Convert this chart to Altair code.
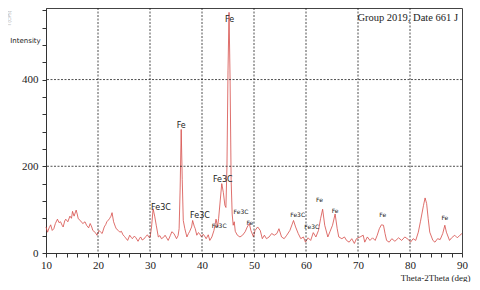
import altair as alt
import pandas as pd

# ---- data ----
two_theta = [
    10.0, 10.3, 10.6, 10.9, 11.2, 11.5, 11.8, 12.2, 12.5, 12.8, 13.1, 13.3, 13.6, 13.8,
    14.2, 14.6, 14.9, 15.1, 15.4, 15.8, 16.0, 16.2, 16.6, 16.9, 17.1, 17.5, 17.8, 18.2,
    18.5, 18.8, 19.0, 19.5, 19.8, 20.2, 20.5, 20.8, 21.2, 21.5, 21.7, 22.0, 22.2, 22.5,
    22.7, 23.0, 23.3, 23.5, 23.9, 24.2, 24.5, 24.8, 25.1, 25.3, 25.7, 26.1, 26.4, 26.6,
    27.0, 27.3, 27.7, 28.0, 28.2, 28.5, 28.8, 29.2, 29.5, 29.8, 30.0, 30.3, 30.6, 30.9,
    31.2, 31.6, 31.9, 32.2, 32.6, 32.9, 33.2, 33.5, 33.9, 34.2, 34.6, 35.1, 35.4, 35.6,
    35.8, 36.0, 36.2, 36.4, 36.7, 37.1, 37.4, 37.6, 38.0, 38.2, 38.5, 38.7, 39.0, 39.3,
    39.5, 39.9, 40.2, 40.4, 40.8, 41.2, 41.5, 41.9, 42.3, 42.5, 42.7, 43.0, 43.2, 43.5,
    43.8, 44.1, 44.4, 44.6, 44.8, 45.0, 45.2, 45.4, 45.6, 45.8, 46.0, 46.2, 46.4, 46.8,
    47.3, 47.8, 48.3, 48.7, 49.1, 49.4, 49.9, 50.2, 50.7, 51.2, 51.6, 52.0, 52.4, 52.9,
    53.4, 53.9, 54.4, 54.8, 55.3, 55.8, 56.3, 56.9, 57.3, 57.6, 58.0, 58.5, 59.0, 59.5,
    59.9, 60.4, 60.9, 61.4, 61.9, 62.4, 62.8, 63.2, 63.6, 64.2, 64.6, 65.1, 65.6, 66.0,
    66.3, 66.9, 67.4, 67.8, 68.3, 68.8, 69.3, 69.7, 70.4, 71.0, 71.3, 71.8, 72.3, 72.8,
    73.3, 73.7, 74.1, 74.5, 74.9, 75.2, 75.5, 76.0, 76.5, 77.1, 77.8, 78.4, 79.0, 79.7,
    80.1, 80.6, 81.1, 81.6, 82.0, 82.6, 82.9, 83.2, 83.5, 83.8, 84.4, 84.8, 85.3, 85.8,
    86.3, 86.7, 87.0, 87.6, 88.0, 88.6, 89.1, 89.6, 90.0,
]
intensity = [
    60, 48, 58, 65, 52, 56, 68, 78, 70, 72, 64, 60, 74, 78,
    72, 85, 80, 96, 85, 99, 90, 79, 75, 70, 68, 72, 64, 58,
    68, 60, 52, 47, 41, 52, 48, 45, 60, 66, 72, 76, 79, 85,
    93, 72, 62, 56, 52, 48, 50, 42, 38, 35, 29, 41, 36, 33,
    39, 35, 27, 34, 37, 30, 32, 38, 42, 36, 35, 60, 102, 85,
    64, 37, 40, 33, 36, 41, 35, 29, 40, 49, 45, 33, 40, 56,
    150, 285, 170, 75, 56, 37, 45, 49, 60, 75, 62, 56, 41, 47,
    45, 37, 43, 41, 33, 42, 29, 37, 52, 65, 78, 60, 80, 120,
    160, 140, 110, 105, 200, 420, 555, 400, 170, 90, 64, 72, 50, 41,
    37, 41, 49, 60, 68, 52, 37, 52, 60, 52, 33, 41, 33, 37,
    45, 41, 45, 56, 37, 33, 41, 52, 65, 75, 60, 45, 33, 37,
    25, 35, 29, 47, 37, 52, 79, 101, 64, 37, 49, 64, 90, 56,
    37, 33, 37, 29, 25, 33, 22, 33, 37, 41, 25, 37, 29, 35,
    29, 41, 56, 65, 64, 45, 29, 25, 33, 27, 35, 29, 37, 31,
    25, 33, 29, 48, 72, 110, 127, 114, 79, 48, 29, 25, 33, 31,
    45, 64, 48, 29, 35, 41, 35, 41, 45,
]

# peak labels (large)
big_labels = ["Fe", "Fe", "Fe3C", "Fe3C", "Fe3C"]
big_x = [45.3, 36.0, 32.1, 39.6, 44.0]
big_y = [537, 292, 104, 86, 168]

# peak labels (small)
small_labels = ["Fe3C", "Fe3C", "Fe", "Fe3C", "Fe3C", "Fe", "Fe", "Fe", "Fe"]
small_x = [43.3, 47.5, 49.2, 58.4, 61.1, 62.6, 65.6, 74.75, 86.7]
small_y = [62, 95, 69, 88, 61, 122, 98, 88, 80]

x_ticks = list(range(10, 91, 2))
y_ticks = list(range(0, 561, 40))
x_grid = [20, 30, 40, 50, 60, 70, 80]
y_grid = [200, 400]

header = "Group 2019, Date 661 J"

# ---- chart ----
X = "two_theta"
Y = "intensity"
df = pd.DataFrame({X: two_theta, Y: intensity})
big_df = pd.DataFrame({"label": big_labels, X: big_x, Y: big_y})
small_df = pd.DataFrame({"label": small_labels, X: small_x, Y: small_y})

xscale = alt.Scale(domain=[10, 90], nice=False, zero=False)
yscale = alt.Scale(domain=[0, 565], nice=False, zero=True)

serif = "Liberation Serif"
sans = "DejaVu Sans"

x_axis = alt.Axis(
    values=x_ticks,
    labelExpr="datum.value % 10 == 0 ? datum.label : ''",
    labelFlush=False,
    labelOverlap=False,
    grid=False,
    tickSize=4,
    tickColor="#333",
    domainColor="#333",
    labelFont=serif,
    labelFontSize=11,
    labelColor="#222",
    labelPadding=2,
    title="Theta-2Theta (deg)",
    titleFont=serif,
    titleFontSize=9,
    titleFontWeight="normal",
    titleColor="#222",
    titleAnchor="end",
    titleAlign="right",
    titleBaseline="middle",
    titleX=424,
    titleY=24.5,
)
y_axis = alt.Axis(
    values=y_ticks,
    labelExpr="datum.value % 200 == 0 ? datum.label : ''",
    labelFlush=False,
    labelOverlap=False,
    grid=False,
    tickSize=4,
    tickColor="#333",
    domainColor="#333",
    labelFont=serif,
    labelFontSize=11,
    labelColor="#222",
    labelPadding=4,
    title="Intensity",
    titleFont=sans,
    titleFontSize=7,
    titleFontWeight="normal",
    titleColor="#222",
    titleAngle=0,
    titleAlign="center",
    titleBaseline="middle",
    titleX=-21,
    titleY=32,
)

xenc = alt.X(f"{X}:Q", scale=xscale, axis=x_axis)
yenc = alt.Y(f"{Y}:Q", scale=yscale, axis=y_axis)

line = alt.Chart(df).mark_line(color="#d64b47", strokeWidth=0.8).encode(x=xenc, y=yenc)

xg = alt.Chart(pd.DataFrame({X: x_grid})).mark_rule(
    color="#222", strokeWidth=0.8, strokeDash=[2, 1.5]
).encode(x=xenc)

yg = alt.Chart(pd.DataFrame({Y: y_grid})).mark_rule(
    color="#222", strokeWidth=0.8, strokeDash=[2, 1.5]
).encode(y=yenc)

big_text = alt.Chart(big_df).mark_text(
    font=sans, fontSize=8, color="#222", baseline="middle", align="center"
).encode(x=xenc, y=yenc, text="label:N")

small_text = alt.Chart(small_df).mark_text(
    font=sans, fontSize=6, color="#222", baseline="middle", align="center"
).encode(x=xenc, y=yenc, text="label:N")

head = alt.Chart(pd.DataFrame({"t": [header]})).mark_text(
    font=serif, fontSize=10.5, color="#222", align="right", baseline="middle"
).encode(x=alt.value(412), y=alt.value(10), text="t:N")

cps = alt.Chart(pd.DataFrame({"t": ["I (CPS)"]})).mark_text(
    font=sans, fontSize=4.5, color="#aaa", angle=270, align="center", baseline="middle"
).encode(x=alt.value(-36), y=alt.value(10), text="t:N")

chart = alt.layer(line, xg, yg, big_text, small_text, head, cps).properties(
    width=416,
    height=245,
    autosize=alt.AutoSizeParams(type="none"),
    padding={"left": 38, "top": 0, "right": 10, "bottom": 29},
).configure_view(stroke="#444", strokeWidth=1)

chart.save("out.html", embed_options={"renderer": "svg", "actions": False})
